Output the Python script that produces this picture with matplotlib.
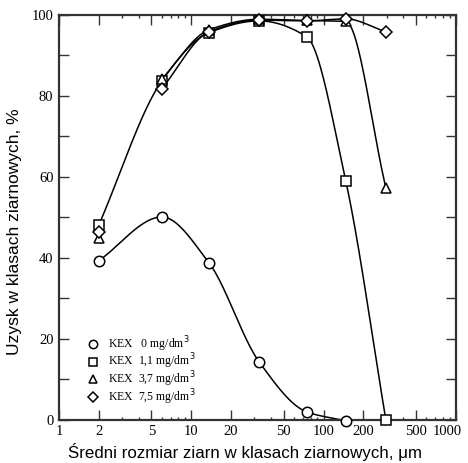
import numpy as np
import matplotlib
matplotlib.use("Agg")
import matplotlib.pyplot as plt
import matplotlib.transforms as mtransforms
from matplotlib.ticker import FixedLocator, NullFormatter

# grain size classes (um) and yields (%)
size = [2, 6, 13.6, 32.5, 74.5, 147, 296]
kex_0 = [39.3, 50.1, 38.8, 14.4, 2.0, -0.2]
kex_11 = [48.1, 83.7, 95.6, 98.5, 94.6, 59.1, 0.0]
kex_37 = [45.0, 84.2, 96.3, 98.9, 98.6, 98.4, 57.3]
kex_75 = [46.3, 81.8, 95.8, 98.7, 98.5, 99.0, 95.8]

labels = ["KEX   0 mg/dm$^3$", "KEX  1,1 mg/dm$^3$",
          "KEX  3,7 mg/dm$^3$", "KEX  7,5 mg/dm$^3$"]
markers = ["o", "s", "^", "D"]
msizes = [7.5, 7, 7.5, 6]
# first point used by each fitted curve
curve_start = [0, 0, 1, 1]

xticks = [1, 2, 5, 10, 20, 50, 100, 200, 500, 1000]


def pchip(x, y, xs):
    # monotone cubic through the points (in log-x)
    x = np.asarray(x, float)
    y = np.asarray(y, float)
    h = np.diff(x)
    d = np.diff(y) / h
    m = np.zeros_like(y)
    for k in range(1, len(x) - 1):
        if d[k - 1] * d[k] > 0:
            w1 = 2 * h[k] + h[k - 1]
            w2 = h[k] + 2 * h[k - 1]
            m[k] = (w1 + w2) / (w1 / d[k - 1] + w2 / d[k])
    m[0] = d[0]
    m[-1] = d[-1]
    out = np.empty_like(xs)
    for i, xv in enumerate(xs):
        k = min(np.searchsorted(x, xv) - 1, len(x) - 2)
        k = max(k, 0)
        t = (xv - x[k]) / h[k]
        h00 = 2 * t**3 - 3 * t**2 + 1
        h10 = t**3 - 2 * t**2 + t
        h01 = -2 * t**3 + 3 * t**2
        h11 = t**3 - t**2
        out[i] = h00 * y[k] + h10 * h[k] * m[k] + h01 * y[k + 1] + h11 * h[k] * m[k + 1]
    return out


plt.rcParams["font.family"] = "Liberation Serif"

fig = plt.figure(figsize=(4.68, 4.63), dpi=100)
ax = fig.add_axes([0.126, 0.093, 0.848, 0.875])

series = [kex_0, kex_11, kex_37, kex_75]
for ys, lab, mk, ms, s0 in zip(series, labels, markers, msizes, curve_start):
    xs = np.array(size[:len(ys)], float)
    lx = np.log10(xs[s0:])
    fine = np.linspace(lx[0], lx[-1], 300)
    ax.plot(10**fine, pchip(lx, ys[s0:], fine), color="black", lw=1.1, zorder=2)
    ax.plot(xs, ys, linestyle="none", marker=mk, ms=ms, mfc="white",
            mec="black", mew=1.1, label=lab, zorder=3, clip_on=False)

ax.set_xscale("log")
ax.set_xlim(1, 1000)
ax.set_ylim(0, 100)
ax.xaxis.set_major_locator(FixedLocator(xticks))
ax.set_xticklabels([str(v) for v in xticks])
ax.xaxis.set_minor_locator(FixedLocator([3, 4, 6, 7, 8, 9, 30, 40, 60, 70, 80, 90,
                                         300, 400, 600, 700, 800, 900]))
ax.xaxis.set_minor_formatter(NullFormatter())
ax.set_yticks([0, 20, 40, 60, 80, 100])
ax.set_yticks([10, 30, 50, 70, 90], minor=True)

ax.tick_params(which="both", direction="in", top=True, right=True,
               labelsize=10.5, width=1.0, color="#333333")
ax.tick_params(which="major", length=7, pad=4)
ax.tick_params(which="minor", length=2.5)
ax.tick_params(axis="y", which="minor", length=7)
for sp in ax.spines.values():
    sp.set_linewidth(1.6)
    sp.set_color("#333333")

# pull "1000" a little inside the figure
last = ax.get_xticklabels()[-1]
last.set_transform(last.get_transform() +
                   mtransforms.ScaledTranslation(-6 / 72, 0, fig.dpi_scale_trans))

ax.set_xlabel("Średni rozmiar ziarn w klasach ziarnowych, μm",
              family="Liberation Sans", fontsize=12.2)
ax.xaxis.set_label_coords(0.47, -0.058)
ax.set_ylabel("Uzysk w klasach ziarnowych, %",
              family="Liberation Sans", fontsize=12.5)
ax.yaxis.set_label_coords(-0.092, 0.465)

leg = ax.legend(loc="lower left", bbox_to_anchor=(0.06, 0.02), frameon=False,
                fontsize=8.5, handletextpad=0.7, labelspacing=-0.15,
                handlelength=1.0, borderaxespad=0, markerscale=0.8)

fig.savefig("out.png", dpi=100)
